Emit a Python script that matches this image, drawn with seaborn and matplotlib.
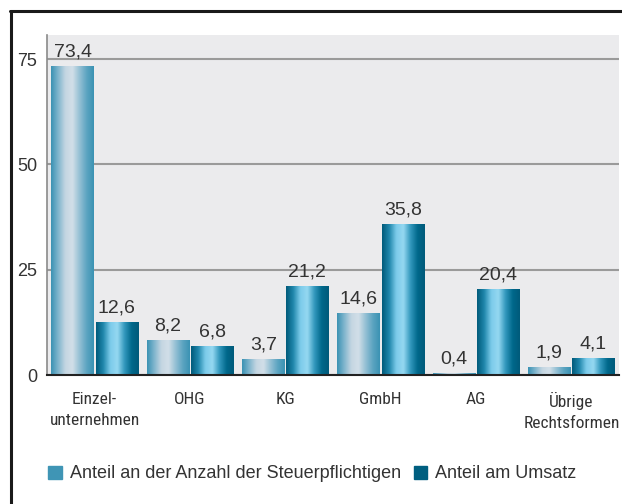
import numpy as np
import pandas as pd
import matplotlib
matplotlib.use("Agg")
import matplotlib.pyplot as plt
from matplotlib import font_manager
from matplotlib.colors import LinearSegmentedColormap
from matplotlib.ticker import FixedLocator
import seaborn as sns

categories = ["Einzel-\nunternehmen", "OHG", "KG", "GmbH", "AG", "Übrige\nRechtsformen"]
anzahl = [73.4, 8.2, 3.7, 14.6, 0.4, 1.9]
umsatz = [12.6, 6.8, 21.2, 35.8, 20.4, 4.1]
series = ["Anteil an der Anzahl der Steuerpflichtigen", "Anteil am Umsatz"]

df = pd.DataFrame({
    "Rechtsform": categories * 2,
    "Wert": anzahl + umsatz,
    "Serie": [series[0]] * 6 + [series[1]] * 6,
})

sns.set_style("white")
plt.rcParams["font.family"] = ["Liberation Sans", "DejaVu Sans"]
txt = "#333333"

# condensed face for the category labels, if one is installed
names = {f.name for f in font_manager.fontManager.ttflist}
narrow = None
for cand in ["Liberation Sans Narrow", "Roboto Condensed", "DejaVu Sans Condensed", "Open Sans Condensed"]:
    if cand in names:
        narrow = cand
        break
if narrow is None:
    cat_font = dict(family="Roboto", stretch="condensed")
else:
    cat_font = dict(family=narrow)

fig = plt.figure(figsize=(6.22, 5.04), dpi=100)
ax = fig.add_axes([47 / 622, 1 - 375 / 504, 572 / 622, 340 / 504])
ax.set_facecolor("#EBEBED")

sns.barplot(data=df, x="Rechtsform", y="Wert", hue="Serie", order=categories,
            palette=["#3F95B5", "#005F80"], width=0.925, gap=0.04,
            legend=False, ax=ax, zorder=3)

# horizontal gradients clipped to each bar
grads = [
    LinearSegmentedColormap.from_list("g1", ["#3A92B3", "#7FB5CD", "#C4D6E2", "#D2DFE8", "#94C0D4", "#5CA4C1", "#3A92B3"]),
    LinearSegmentedColormap.from_list("g2", ["#005A7A", "#1F86AB", "#7CCBEA", "#95D8F1", "#3197BC", "#00688B", "#005A7A"]),
]
grad = np.linspace(0, 1, 256).reshape(1, -1)
for cont, cmap in zip(ax.containers, grads):
    for p in cont:
        x0, y0 = p.get_x(), p.get_y()
        x1, y1 = x0 + p.get_width(), y0 + p.get_height()
        im = ax.imshow(grad, cmap=cmap, extent=[x0, x1, y0, y1], aspect="auto",
                       zorder=3, interpolation="bicubic")
        im.set_clip_path(p)
        p.set_facecolor("none")
        p.set_edgecolor("none")
    vals = [p.get_height() for p in cont]
    ax.bar_label(cont, labels=[f"{v:.1f}".replace(".", ",") for v in vals],
                 padding=4, fontsize=14, color=txt, zorder=5)

ax.set_xlim(-0.5, 5.5)
ax.set_ylim(0, 80.7)
ax.set_yticks([0, 25, 50, 75])
ax.yaxis.grid(True, color="#9A9A9A", linewidth=1.5, zorder=1)
ax.set_axisbelow(True)
ax.tick_params(axis="y", length=0, labelsize=13, labelcolor=txt, pad=7)

ax.xaxis.set_major_locator(FixedLocator(np.arange(-0.5, 6, 1)))
ax.xaxis.set_minor_locator(FixedLocator(np.arange(6)))
ax.set_xticklabels([], minor=False)
ax.set_xticklabels(categories, minor=True, fontsize=12.5, color=txt, linespacing=1.5, **cat_font)
ax.tick_params(axis="x", which="major", length=5, width=1.2, color="#555555", direction="out")
ax.tick_params(axis="x", which="minor", length=0, pad=12)
ax.set_xlabel("")
ax.set_ylabel("")

for s in ["top", "right"]:
    ax.spines[s].set_visible(False)
ax.spines["left"].set_color("#8A8A8A")
ax.spines["left"].set_linewidth(1.2)
ax.spines["bottom"].set_color("#222222")
ax.spines["bottom"].set_linewidth(1.5)
ax.spines["bottom"].set_zorder(6)

# frame lines (top and left)
fig.add_artist(plt.Line2D([11 / 622, 11 / 622], [0, 1 - 11 / 504], color="#1A1A1A", lw=2.2))
fig.add_artist(plt.Line2D([10 / 622, 1], [1 - 11 / 504, 1 - 11 / 504], color="#1A1A1A", lw=2.2))

# legend
handles = [plt.Rectangle((0, 0), 1, 1, color=c) for c in ["#3F95B5", "#005F80"]]
fig.legend(handles, series, loc="center left", bbox_to_anchor=(32 / 622, 1 - 474 / 504),
           ncol=2, frameon=False, fontsize=13, handlelength=0.75, handleheight=0.75,
           handletextpad=0.45, columnspacing=0.7, labelcolor=txt)

fig.savefig("out.png", dpi=100)
